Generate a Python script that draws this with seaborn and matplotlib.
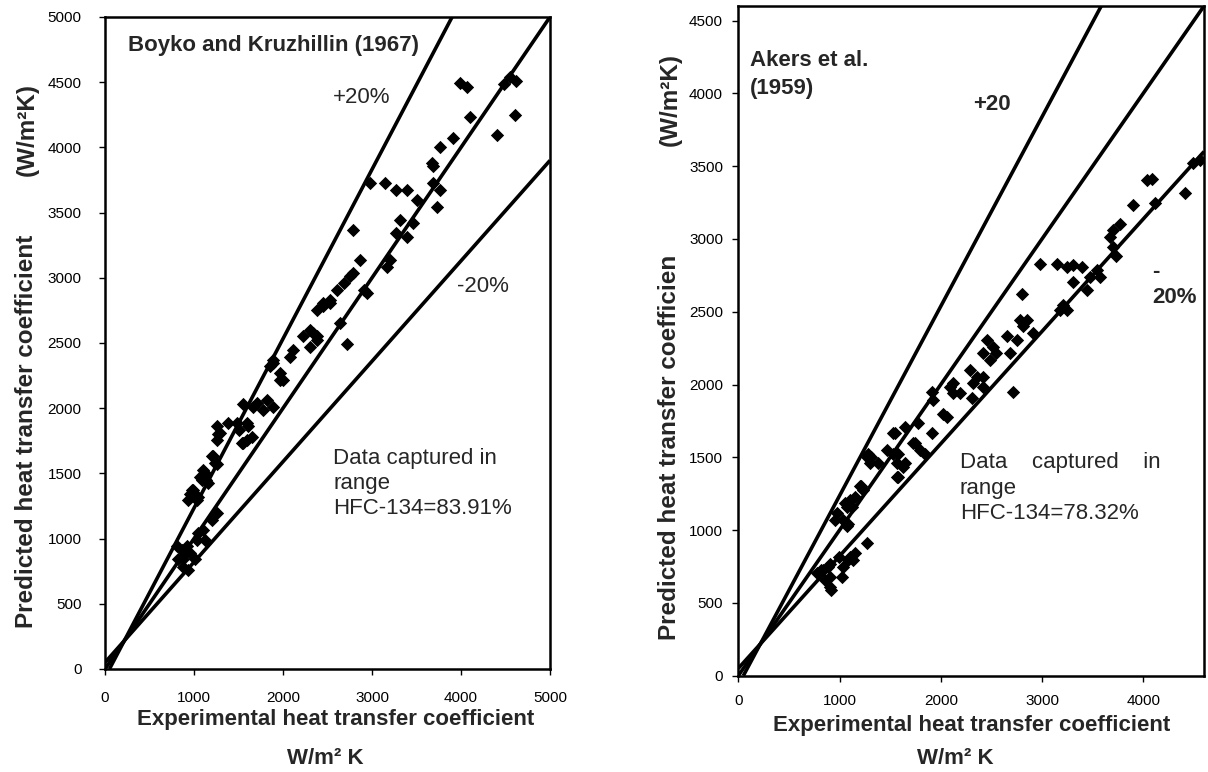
import matplotlib
matplotlib.use("Agg")
import matplotlib.pyplot as plt
import seaborn as sns
import pandas as pd
from matplotlib.transforms import Bbox

# ---------------- data ----------------
left_exp = [805, 880, 880, 918, 955, 1030, 1105, 1050, 1125, 900, 935, 860, 1010, 825, 1255, 1200,
            955, 990, 1030, 1050, 935, 975, 1070, 1105, 1140, 1085, 1160, 1125,
            1215, 1255, 1200, 1235, 1255, 1290, 1255, 1275, 1385, 1500, 1610, 1535, 1650,
            1480, 1590, 1590, 1555, 1555, 1665, 1705, 1780, 1815, 1890,
            1890, 1965, 2005, 2080, 2115, 1855, 1890, 1965,
            2305, 2340, 2380, 2230, 2380, 2300, 2380, 2455, 2530, 2455, 2530, 2605, 2680, 2640, 2715,
            2750, 2790, 2865, 2905, 2940, 2790, 2980, 3145, 3275, 3390, 3200, 3165, 3315, 3465, 3390, 3275,
            3500, 3725, 3670, 3690, 3765, 3690, 3765, 3915, 3990, 4070, 4100, 4400, 4550, 4480, 4620, 4610]
left_pred = [940, 785, 840, 940, 890, 990, 1065, 1040, 990, 890, 760, 910, 840, 840, 1195, 1145,
             1345, 1375, 1295, 1320, 1295, 1370, 1475, 1525, 1450, 1450, 1425, 1500,
             1630, 1575, 1630, 1580, 1860, 1810, 1755, 1805, 1885, 1835, 1860, 1730, 1780,
             1885, 1885, 1755, 1730, 2035, 2010, 2040, 1985, 2065, 2010,
             2345, 2270, 2215, 2395, 2445, 2320, 2370, 2215,
             2470, 2575, 2525, 2550, 2550, 2600, 2755, 2780, 2805, 2805, 2830, 2905, 2960, 2650, 2490,
             3010, 3035, 3135, 2905, 2880, 3370, 3725, 3725, 3675, 3670, 3135, 3085, 3445, 3420, 3315, 3340,
             3600, 3545, 3880, 3725, 3675, 3855, 4005, 4070, 4495, 4465, 4235, 4095, 4540, 4490, 4510, 4250]

right_exp = [775, 840, 905, 905, 905, 1035, 1100, 1135, 820, 890, 990, 920, 855, 1020, 1085, 1150, 1270,
             970, 1035, 1070, 955, 1085, 1120, 1150, 1055, 1215, 1100, 1070, 1235, 1200,
             1270, 1300, 1315, 1280, 1380,
             1465, 1530, 1565, 1630, 1565, 1530, 1580, 1580, 1645, 1745, 1845, 1545, 1645, 1775, 1910,
             1730, 1795, 2025, 2060, 1910, 1925, 2090, 2125, 2190, 2125,
             2305, 2290, 2355, 2320, 2420, 2420,
             2455, 2520, 2420, 2550, 2485, 2685, 2650, 2750, 2915, 2780, 2815, 2850, 2715,
             2800, 3210, 3245, 3180,
             2980, 3145, 3245, 3310, 3390, 3540, 3570, 3440, 3310, 3475,
             3705, 3735, 3770, 3705, 3670,
             3900, 4115, 4035, 4085, 4410, 4495, 4560]
right_pred = [705, 725, 680, 610, 770, 750, 815, 795, 725, 750, 815, 590, 655, 680, 795, 840, 910,
              1115, 1070, 1025, 1070, 1045, 1160, 1230, 1185, 1300, 1205, 1160, 1275, 1300,
              1505, 1460, 1505, 1525, 1460,
              1550, 1525, 1460, 1435, 1365, 1665, 1525, 1365, 1460, 1595, 1525, 1665, 1710, 1735, 1665,
              1595, 1550, 1800, 1780, 1950, 1895, 1985, 1940, 1940, 2010,
              1905, 2100, 2055, 2010, 1985, 2055,
              2305, 2260, 2215, 2215, 2170, 2215, 2330, 2305, 2355, 2445, 2400, 2445, 1950,
              2625, 2545, 2510, 2515,
              2830, 2830, 2810, 2820, 2810, 2785, 2740, 2650, 2705, 2740,
              2945, 2880, 3105, 3060, 3015,
              3235, 3245, 3405, 3415, 3315, 3520, 3545]

# reference lines (+20 %, parity, -20 %) as drawn in the original
left_plus_x, left_plus_y = [50, 3900], [0, 5000]
left_mid_x, left_mid_y = [0, 5000], [0, 5000]
left_minus_x, left_minus_y = [0, 5000], [50, 3900]
right_plus_x, right_plus_y = [50, 3585], [0, 4600]
right_mid_x, right_mid_y = [0, 4600], [0, 4600]
right_minus_x, right_minus_y = [0, 4600], [50, 3600]

left_xticks = [0, 1000, 2000, 3000, 4000, 5000]
left_yticks = [0, 500, 1000, 1500, 2000, 2500, 3000, 3500, 4000, 4500, 5000]
right_xticks = [0, 1000, 2000, 3000, 4000]
right_yticks = [0, 500, 1000, 1500, 2000, 2500, 3000, 3500, 4000, 4500]

# ---------------- style ----------------
sns.set_style("white")
plt.rcParams['font.family'] = ['Liberation Sans', 'DejaVu Sans']

W, H = 1208, 772
fig = plt.figure(figsize=(W / 100, H / 100), dpi=100)


def frac_axes(x0, y_top, x1, y_bot):
    return fig.add_axes([x0 / W, 1 - y_bot / H, (x1 - x0) / W, (y_bot - y_top) / H])


axL = frac_axes(105, 17, 550, 669)
axR = frac_axes(738.3, 6, 1204, 675.7)

LW = 2.6
for ax, px, py, mx, my, nx, ny in [
    (axL, left_plus_x, left_plus_y, left_mid_x, left_mid_y, left_minus_x, left_minus_y),
    (axR, right_plus_x, right_plus_y, right_mid_x, right_mid_y, right_minus_x, right_minus_y),
]:
    for xs, ys in [(px, py), (mx, my), (nx, ny)]:
        sns.lineplot(x=xs, y=ys, ax=ax, color="black", linewidth=LW, sort=False,
                     estimator=None, legend=False, solid_capstyle="butt")

sns.scatterplot(x=left_exp, y=left_pred, ax=axL, marker="D", s=46, color="black",
                linewidth=0, legend=False, zorder=3)
sns.scatterplot(x=right_exp, y=right_pred, ax=axR, marker="D", s=46, color="black",
                linewidth=0, legend=False, zorder=3)

axL.set_xlim(0, 5000)
axL.set_ylim(0, 5000)
axL.set_xticks(left_xticks)
axL.set_yticks(left_yticks)
axR.set_xlim(0, 4600)
axR.set_ylim(0, 4600)
axR.set_xticks(right_xticks)
axR.set_yticks(right_yticks)

for ax in (axL, axR):
    for sp in ax.spines.values():
        sp.set_linewidth(1.8)
        sp.set_color("black")
    ax.tick_params(axis="both", direction="out", length=4, width=1, labelsize=11,
                   colors="black", bottom=True, left=True)
    ax.set_xlabel("")
    ax.set_ylabel("")
axL.tick_params(axis="y", pad=13)
axL.tick_params(axis="x", pad=12)
axR.tick_params(axis="y", pad=7)
axR.tick_params(axis="x", pad=9)

FS = 16
# left panel annotations
axL.text(258, 4778, "Boyko and Kruzhillin (1967)", fontsize=FS, fontweight="bold", va="center", ha="left")
axL.text(2562, 4383, "+20%", fontsize=FS, va="center", ha="left")
axL.text(3955, 2937, "-20%", fontsize=FS, va="center", ha="left")
axL.text(2562, 1423, "Data captured in\nrange\nHFC-134=83.91%", fontsize=FS, va="center", ha="left",
         linespacing=1.27)

# right panel annotations
axR.text(116, 4297, "Akers et al.\n(1959)", fontsize=FS, fontweight="bold", va="top", ha="left",
         linespacing=1.45)
axR.text(2318, 3923, "+20", fontsize=FS, fontweight="bold", va="center", ha="left")
axR.text(4085, 2687, "-\n20%", fontsize=FS, fontweight="bold", va="center", ha="left", linespacing=1.26)
axR.text(2189, 1288, "Data    captured    in\nrange\nHFC-134=78.32%", fontsize=FS, va="center", ha="left",
         linespacing=1.27)


# axis titles (figure-pixel positions)
def ftext(x, y, s, fs=FS, **kw):
    return fig.text(x / W, 1 - y / H, s, fontsize=fs, fontweight="bold", **kw)


ftext(336, 719, "Experimental heat transfer coefficient", ha="center", va="center")
ftext(325, 758, "W/m² K", ha="center", va="center")
ftext(972, 726, "Experimental heat transfer coefficient", ha="center", va="center")
ftext(955, 758, "W/m² K", ha="center", va="center")

YFS = 17.5
ftext(27, 628, "Predicted heat transfer coefficient", fs=YFS, rotation=90, ha="center", va="bottom")
ftext(27, 130, "(W/m²K)", fs=YFS, rotation=90, ha="center", va="center")

t = ftext(670, 640, "Predicted heat transfer coefficient", fs=YFS, rotation=90, ha="center", va="bottom")
t.set_clip_box(Bbox([[0, 0], [W, H - 257]]))
t.set_clip_on(True)
ftext(670, 100, "(W/m²K)", fs=YFS, rotation=90, ha="center", va="center")

fig.savefig("out.png", dpi=100, facecolor="white")
